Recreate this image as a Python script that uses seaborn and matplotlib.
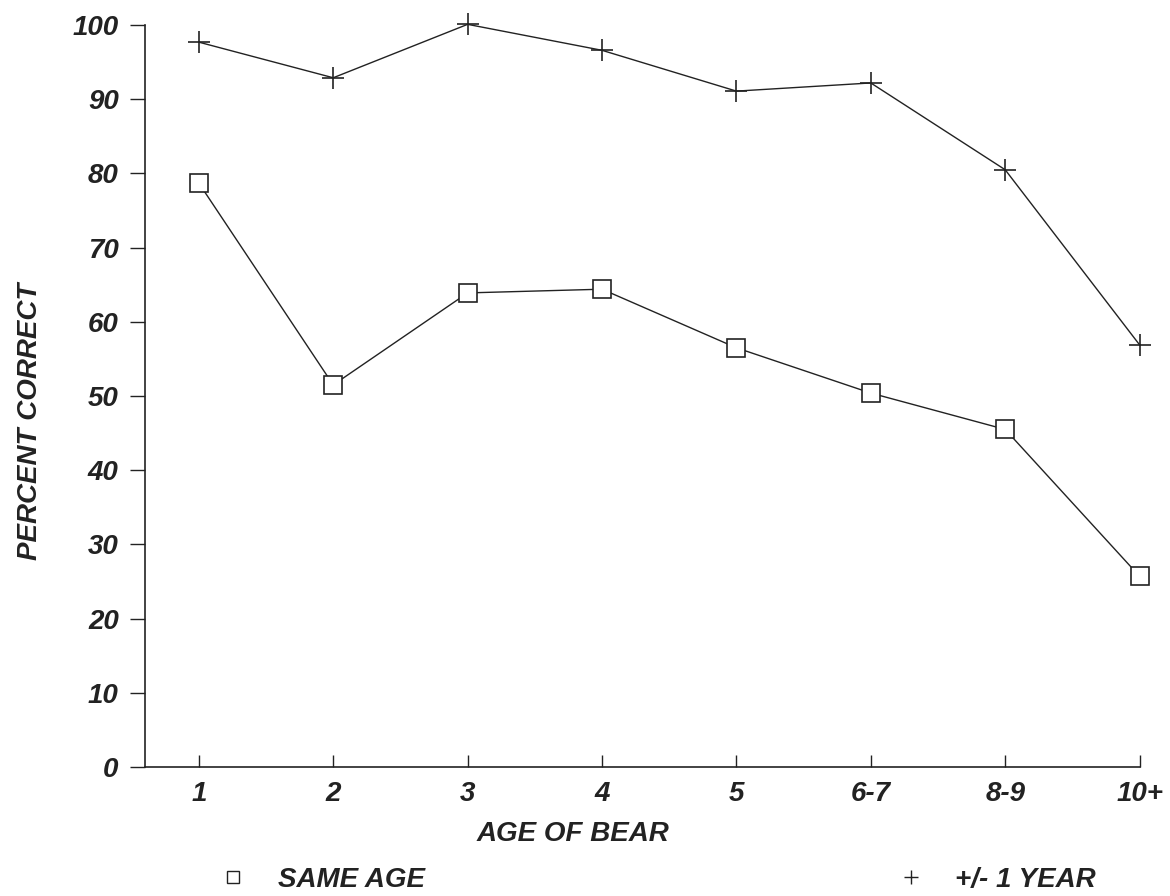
import pandas as pd
import numpy as np
import matplotlib
matplotlib.use('Agg')
import matplotlib.pyplot as plt
from matplotlib.lines import Line2D
import seaborn as sns

# data
ages = ['1', '2', '3', '4', '5', '6-7', '8-9', '10+']
same_age = [78.7, 51.5, 63.9, 64.4, 56.5, 50.4, 45.5, 25.7]
within_one = [97.7, 92.9, 100.1, 96.6, 91.1, 92.2, 80.5, 56.9]
series_names = ['SAME AGE', '+/- 1 YEAR']
series_markers = ['s', '+']
y_ticks = [0, 10, 20, 30, 40, 50, 60, 70, 80, 90, 100]

sns.set_style('white')
plt.rcParams['font.family'] = ['Liberation Sans', 'DejaVu Sans']
plt.rcParams['font.style'] = 'italic'
plt.rcParams['font.weight'] = 'bold'
plt.rcParams['axes.labelweight'] = 'bold'

ink = '#222222'

fig = plt.figure(figsize=(11.7, 8.96), dpi=100)
ax = fig.add_axes([0.124, 0.144, 0.850, 0.828])

# one call per series: filled and line-art markers can't share a style map
for vals, mk in zip([same_age, within_one], series_markers):
    df = pd.DataFrame({'age': ages, 'pct': vals})
    sns.lineplot(data=df, x='age', y='pct', sort=False, marker=mk,
                 color=ink, linewidth=1.0, markersize=13 if mk == 's' else 16,
                 markerfacecolor='white', markeredgecolor=ink,
                 markeredgewidth=1.2, ax=ax, legend=False, clip_on=False)

ax.set_xlim(-0.4, 7)
ax.set_ylim(0, 100)
ax.set_yticks(y_ticks)
ax.set_yticklabels([str(t) for t in y_ticks])
ax.set_xticks(range(len(ages)))
ax.set_xticklabels(ages)

for side in ['top', 'right']:
    ax.spines[side].set_visible(False)
for side in ['left', 'bottom']:
    ax.spines[side].set_color(ink)
    ax.spines[side].set_linewidth(1.2)

ax.tick_params(axis='y', left=True, direction='out', length=11, width=1,
               color=ink, pad=8, labelsize=20, labelcolor=ink)
ax.tick_params(axis='x', bottom=True, direction='in', length=9, width=1,
               color=ink, pad=10, labelsize=20, labelcolor=ink)

ax.set_xlabel('AGE OF BEAR', fontsize=20, color=ink, style='italic',
              fontweight='bold')
ax.set_ylabel('PERCENT CORRECT', fontsize=20, color=ink, style='italic',
              fontweight='bold')
ax.xaxis.set_label_coords(0.43, -0.073)
ax.yaxis.set_label_coords(-0.103, 0.466)

handles = [
    Line2D([], [], linestyle='none', marker='s', markersize=9,
           markerfacecolor='white', markeredgecolor=ink, markeredgewidth=1),
    Line2D([], [], linestyle='none', marker='+', markersize=10,
           markeredgecolor=ink, markeredgewidth=1),
]
leg = fig.legend(handles, series_names, loc='center left',
                 bbox_to_anchor=(0.178, 0.018), ncol=2, frameon=False,
                 fontsize=20, handlelength=1.0, handletextpad=1.1,
                 columnspacing=17.0, borderaxespad=0)
for t in leg.get_texts():
    t.set_color(ink)
    t.set_style('italic')

fig.savefig('out.png', dpi=100)
